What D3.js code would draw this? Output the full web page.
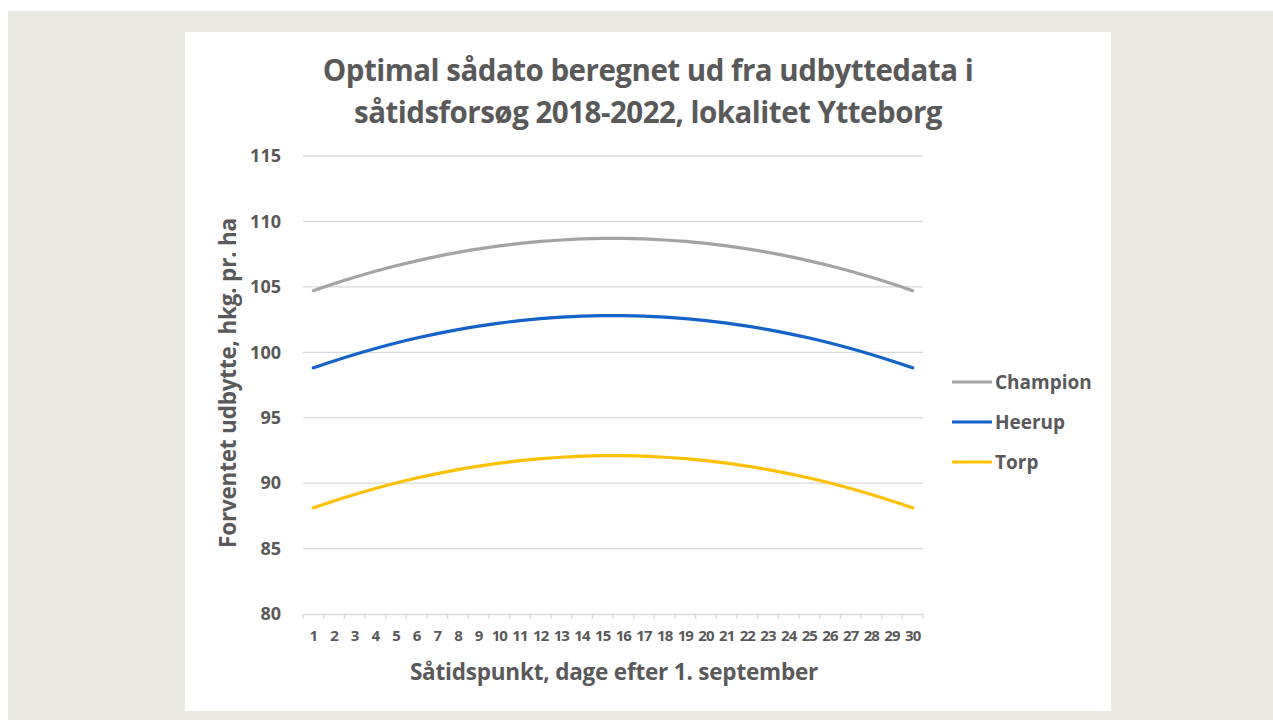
<!DOCTYPE html>
<html>
<head>
<meta charset="utf-8">
<script src="https://cdn.jsdelivr.net/npm/d3@7"></script>
<style>
  html, body { margin: 0; padding: 0; background: #ffffff; }
  svg { display: block; }
  text { font-family: "Open Sans", "DejaVu Sans", sans-serif; fill: #595959; font-weight: 700; }
</style>
</head>
<body>
<svg id="chart"></svg>
<script>
// day after 1 september
const days = d3.range(1, 31);

const champion = [104.71,105.24,105.73,106.19,106.61,106.99,107.33,107.63,107.90,108.13,108.32,108.47,108.58,108.66,108.70,
                  108.70,108.66,108.58,108.47,108.32,108.13,107.90,107.63,107.33,106.99,106.61,106.19,105.73,105.24,104.71];
const heerup = [98.81,99.34,99.83,100.29,100.71,101.09,101.43,101.73,102.00,102.23,102.42,102.57,102.68,102.76,102.80,
                102.80,102.76,102.68,102.57,102.42,102.23,102.00,101.73,101.43,101.09,100.71,100.29,99.83,99.34,98.81];
const torp = [88.11,88.64,89.13,89.59,90.01,90.39,90.73,91.03,91.30,91.53,91.72,91.87,91.98,92.06,92.10,
              92.10,92.06,91.98,91.87,91.72,91.53,91.30,91.03,90.73,90.39,90.01,89.59,89.13,88.64,88.11];

const seriesNames = ["Champion", "Heerup", "Torp"];
const seriesColors = ["#a3a3a3", "#1262c8", "#ffc000"];
const yTicks = [80, 85, 90, 95, 100, 105, 110, 115];

const titleLines = ["Optimal sådato beregnet ud fra udbyttedata i", "såtidsforsøg 2018-2022, lokalitet Ytteborg"];
const yTitle = "Forventet udbytte, hkg. pr. ha";
const xTitle = "Såtidspunkt, dage efter 1. september";

let width = 1273;
let height = 720;
let plot = { left: 303, right: 923, top: 156, bottom: 614 };

let svg = d3.select("#chart")
    .attr("width", width)
    .attr("height", height);

// page background + card
svg.append("rect")
    .attr("x", 8).attr("y", 11)
    .attr("width", width - 8).attr("height", height - 11)
    .attr("fill", "#eae9e2");
svg.append("rect")
    .attr("x", 185).attr("y", 32)
    .attr("width", 926).attr("height", 679)
    .attr("fill", "#ffffff");

let xScale = d3.scaleBand()
    .domain(days)
    .range([plot.left, plot.right]);

let yScale = d3.scaleLinear()
    .domain([80, 115])
    .range([plot.bottom, plot.top]);

// gridlines
svg.append("g")
    .selectAll("line")
    .data(yTicks.slice(1))
    .enter()
    .append("line")
    .attr("x1", plot.left)
    .attr("x2", plot.right)
    .attr("y1", d => yScale(d))
    .attr("y2", d => yScale(d))
    .attr("stroke", "#d9d9d9")
    .attr("stroke-width", 1.3);

// y axis labels
let yAxis = d3.axisLeft(yScale)
    .tickValues(yTicks)
    .tickSize(0)
    .tickPadding(22);

let yg = svg.append("g")
    .attr("transform", `translate(${plot.left},0)`)
    .call(yAxis);
yg.select(".domain").remove();
yg.selectAll("text")
    .style("font-size", "18px")
    .attr("fill", "#595959");

// x axis
let xAxis = d3.axisBottom(xScale)
    .tickSize(0)
    .tickPadding(16);

let xg = svg.append("g")
    .attr("transform", `translate(0,${plot.bottom})`)
    .call(xAxis);
xg.select(".domain")
    .attr("stroke", "#d9d9d9")
    .attr("stroke-width", 1.3);
xg.selectAll("text")
    .style("font-size", "15px")
    .style("letter-spacing", "-0.9px")
    .attr("fill", "#595959");

// tick marks between categories
svg.append("g")
    .selectAll("line")
    .data(days.concat([31]))
    .enter()
    .append("line")
    .attr("x1", d => d === 31 ? plot.right : xScale(d))
    .attr("x2", d => d === 31 ? plot.right : xScale(d))
    .attr("y1", plot.bottom)
    .attr("y2", plot.bottom + 5)
    .attr("stroke", "#d9d9d9")
    .attr("stroke-width", 1.3);

// lines
let line = d3.line()
    .x((d, i) => xScale(days[i]) + xScale.bandwidth() / 2)
    .y(d => yScale(d))
    .curve(d3.curveCatmullRom);

let allSeries = [champion, heerup, torp];

svg.append("g")
    .selectAll("path")
    .data(allSeries)
    .enter()
    .append("path")
    .attr("d", d => line(d))
    .attr("fill", "none")
    .attr("stroke", (d, i) => seriesColors[i])
    .attr("stroke-width", 3.2)
    .attr("stroke-linecap", "round");

// title
svg.append("g")
    .selectAll("text")
    .data(titleLines)
    .enter()
    .append("text")
    .attr("x", 648)
    .attr("y", (d, i) => 81 + i * 42)
    .attr("text-anchor", "middle")
    .style("font-size", "29.5px")
    .style("letter-spacing", "-0.5px")
    .text(d => d);

// axis titles
svg.append("text")
    .attr("transform", "rotate(-90)")
    .attr("x", -383)
    .attr("y", 236)
    .attr("text-anchor", "middle")
    .style("font-size", "22.5px")
    .style("letter-spacing", "-0.2px")
    .text(yTitle);

svg.append("text")
    .attr("x", 614)
    .attr("y", 680)
    .attr("text-anchor", "middle")
    .style("font-size", "22.5px")
    .style("letter-spacing", "-0.2px")
    .text(xTitle);

// legend
let legend = svg.append("g")
    .selectAll("g")
    .data(seriesNames)
    .enter()
    .append("g")
    .attr("transform", (d, i) => `translate(952,${382 + i * 40})`);

legend.append("line")
    .attr("x1", 0)
    .attr("x2", 40)
    .attr("stroke", (d, i) => seriesColors[i])
    .attr("stroke-width", 3.2);

legend.append("text")
    .attr("x", 43)
    .attr("y", 7)
    .style("font-size", "19px")
    .text(d => d);
</script>
</body>
</html>
